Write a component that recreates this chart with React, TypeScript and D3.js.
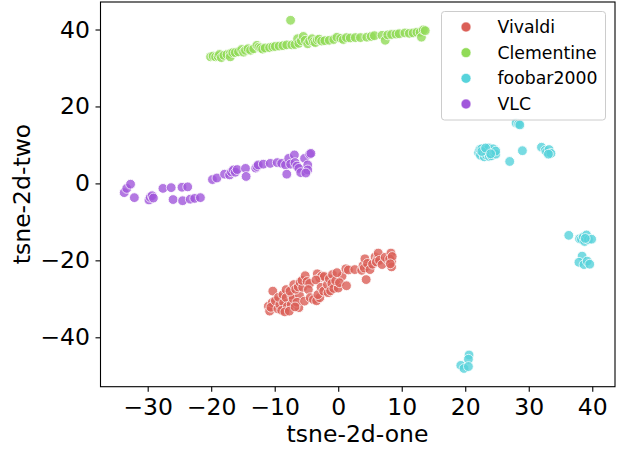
import { useRef, useEffect } from 'react';
import * as d3 from 'd3';

const xTicks = [-30, -20, -10, 0, 10, 20, 30, 40];
const yTicks = [-40, -20, 0, 20, 40];

const vivaldi = [
  [-11, -31.9], [-10.8, -33.2], [-10.4, -31], [-10.6, -32.2], [-9.5, -32.6], [-9.9, -30.5], [-10.3, -28], [-9.2, -31.5], [-9.4, -29.6], [-8.6, -31],
  [-8.9, -33], [-8.7, -28.9], [-8.2, -27.6], [-8.2, -29.7], [-8, -32], [-8.4, -33.4], [-7.3, -29.1], [-7.4, -31.5], [-7.7, -33.2], [-7.1, -30],
  [-7.6, -28], [-6.2, -32.3], [-6.1, -29.1], [-6.5, -30.9], [-6.8, -32.1], [-7, -26.3], [-6.7, -27.5], [-6.3, -26.9], [-6, -25.7], [-5.6, -27],
  [-5.7, -25.2], [-5.2, -24], [-4.9, -25.5], [-5.3, -30.6], [-4.5, -26], [-4.7, -27.6], [-4.4, -29.7], [-3.9, -30.2], [-3.4, -30.5], [-2.9, -29.7],
  [-3.2, -28.9], [-3.3, -23.5], [-2.9, -24.6], [-2.6, -24.1], [-2.2, -24.2], [-3.5, -25.1], [-2.7, -27], [-2.3, -28], [-1.6, -28.4], [-1.7, -26.3],
  [-1.2, -27.9], [-1.4, -24.8], [-0.9, -23.7], [-1, -26], [-0.7, -27.3], [0, -27.2], [-0.4, -25.3], [0.6, -24.1], [-0.2, -23.2], [0.2, -25.8],
  [1.3, -26.6], [1.2, -22.2], [1.6, -22.5], [2.6, -22.4], [3.7, -22.6], [3.9, -21.4], [4.2, -19.6], [4.4, -25], [4.5, -21.6], [4.1, -22],
  [4.6, -20.8], [5, -22.4], [5.4, -21], [5.8, -19.1], [6.2, -19.6], [6, -20.4], [6.3, -18.1], [6.5, -20], [6.9, -21.1], [7.7, -19.8],
  [7.4, -19.2], [8.3, -18.1], [8.4, -20.3], [8.1, -19.6], [8.4, -21.7], [8.5, -19], [8.2, -20.9],
];

const clementine = [
  [-20.1, 32.9], [-19.7, 33.1], [-19.3, 32.9], [-18.9, 33], [-18.7, 33.5], [-18.4, 32.7], [-18, 33.3], [-17.5, 33.5], [-17, 33.7], [-17, 32.9],
  [-16.6, 34], [-16.2, 34], [-15.7, 34.2], [-15.2, 34.8], [-14.9, 34.1], [-14.6, 34.6], [-14.2, 35], [-13.8, 34.6], [-13.3, 35], [-12.8, 35.9],
  [-12.5, 35.4], [-12.2, 35.2], [-11.9, 34.9], [-11.5, 35.2], [-10.8, 35.3], [-10.3, 35.5], [-9.9, 35.6], [-9.3, 35.7], [-8.7, 35.8], [-8.1, 36],
  [-7.5, 42.4], [-7.3, 36], [-6.8, 36.1], [-6.4, 37.6], [-6.2, 36.4], [-5.8, 37.1], [-5.5, 38.2], [-5.2, 37.2], [-4.8, 36.3], [-4.5, 37],
  [-4.1, 37.6], [-3.9, 36.8], [-3.6, 36.6], [-3.3, 37.3], [-3, 37.5], [-2.6, 37], [-2.1, 37.1], [-1.4, 37.2], [-0.7, 37.4], [-0.2, 38],
  [0.4, 37.7], [0.8, 37.4], [1.3, 37.9], [1.9, 37.8], [2.7, 37.9], [3.5, 37.9], [4.5, 38], [5.2, 38.2], [5.7, 38.4], [6.9, 38.5],
  [7.4, 37.2], [7.8, 38.6], [8.4, 38.7], [9.1, 38.8], [9.6, 38.9], [10.5, 39.1], [11.2, 39], [11.8, 39.1], [12.4, 39.3], [12.9, 39.3],
  [13.1, 38], [13.4, 39.9], [13.7, 39.7],
];

const foobar2000 = [
  [22.1, 8], [22.3, 8.8], [22.4, 7.3], [22.6, 9], [22.8, 7.9], [23, 6.9], [23.1, 8.6], [23.3, 7.4], [23.5, 8], [23.7, 9.2],
  [23.8, 7], [24.1, 7.2], [24.2, 8.4], [24.4, 9], [24.6, 7.9], [24.8, 7.6], [24.8, 8.4], [22.6, 8.3], [23.2, 9.2], [24, 7.7],
  [28, 15.7], [28.4, 15.4], [28.6, 15.2], [29, 8.5], [27, 5.7], [32, 9.4], [32.6, 8.6], [32.8, 8.2], [33.2, 8.8], [33.5, 7.8],
  [33.1, 7.6], [36.3, -13.5], [38, -14.4], [38.3, -14.5], [38.6, -13.9], [38.8, -15.1], [39.1, -13.4], [39.4, -14.6], [39.9, -14.5], [38.9, -14.3],
  [38.4, -18.9], [37.9, -20.5], [38.7, -21.1], [39.2, -20.2], [39.6, -21], [20.6, -44.6], [20.5, -45.7], [19.3, -47.3], [19.8, -48.1], [20.5, -47.6],
];

const vlc = [
  [-33.7, -2.4], [-33.3, -1.3], [-32.7, -0.2], [-32.1, -3.7], [-29.8, -4.3], [-29.6, -3.6], [-29.3, -3.2], [-29.1, -3.8], [-27.6, -1.3], [-26.3, -1.1],
  [-24.6, -1], [-23.7, -0.9], [-26, -4.2], [-24.5, -4.5], [-23.3, -4.1], [-22.6, -3.9], [-21.7, -3.7], [-19.8, 1], [-19.1, 1.4], [-17.9, 2.4],
  [-17.1, 2.2], [-16.8, 3], [-16.5, 3.5], [-16.2, 2.9], [-15.9, 3.6], [-14.6, 3.9], [-14.5, 1.8], [-13, 4], [-12.8, 4.4], [-12.6, 4.8],
  [-11.8, 5], [-10.7, 5.2], [-9.6, 5.4], [-8.9, 5.2], [-8.3, 4.8], [-8.1, 2.4], [-7.8, 6.5], [-7.5, 5], [-6.9, 7.4], [-6.8, 5.4],
  [-6.5, 4.5], [-6.2, 3.9], [-5.9, 2.8], [-5.3, 6.5], [-4.8, 4.8], [-4.8, 3.5], [-5.1, 2.7], [-4.5, 7.6], [-4.3, 7.8],
];

const seriesNames = ['Vivaldi', 'Clementine', 'foobar2000', 'VLC'];
const seriesValues = [vivaldi, clementine, foobar2000, vlc];
const colors = ['#db5f57', '#91db57', '#57d3db', '#a157db'];

export default function App() {
  const svgRef = useRef<SVGSVGElement>(null);

  useEffect(() => {
    const width = 618;
    const height = 450;
    const margin = { top: 2, right: 3, bottom: 63.3, left: 100.5 };
    const fontFamily = '"DejaVu Sans", sans-serif';

    const xScale = d3.scaleLinear().domain([-37.43, 43.58]).range([margin.left, width - margin.right]);
    const yScale = d3.scaleLinear().domain([-52.84, 47.15]).range([height - margin.bottom, margin.top]);

    const svg = d3.select(svgRef.current).attr('width', width).attr('height', height);
    svg.selectAll('*').remove();

    // points
    seriesValues.forEach((values, i) => {
      svg.append('g')
        .selectAll('circle')
        .data(values)
        .enter()
        .append('circle')
        .attr('cx', d => xScale(d[0]))
        .attr('cy', d => yScale(d[1]))
        .attr('r', 4.9)
        .attr('fill', colors[i])
        .attr('stroke', '#fff')
        .attr('stroke-width', 0.9)
        .attr('opacity', 0.8);
    });

    // axes
    const xAxis = svg.append('g')
      .attr('transform', `translate(0, ${height - margin.bottom})`)
      .call(d3.axisBottom(xScale).tickValues(xTicks).tickSize(5).tickPadding(6.5).tickFormat(d3.format('d') as any));
    const yAxis = svg.append('g')
      .attr('transform', `translate(${margin.left}, 0)`)
      .call(d3.axisLeft(yScale).tickValues(yTicks).tickSize(5).tickPadding(5.5).tickFormat(d3.format('d') as any));

    [xAxis, yAxis].forEach(a => {
      a.selectAll('text').attr('font-size', 23.5).attr('font-family', fontFamily).attr('fill', '#000');
      a.selectAll('line').attr('stroke', '#000').attr('stroke-width', 1.1);
      a.select('.domain').remove();
    });

    // frame
    svg.append('rect')
      .attr('x', margin.left)
      .attr('y', margin.top)
      .attr('width', width - margin.left - margin.right)
      .attr('height', height - margin.top - margin.bottom)
      .attr('fill', 'none')
      .attr('stroke', '#000')
      .attr('stroke-width', 1.1);

    svg.append('text')
      .attr('x', 357.5)
      .attr('y', 442)
      .attr('text-anchor', 'middle')
      .attr('font-size', 23.5)
      .attr('font-family', fontFamily)
      .text('tsne-2d-one');

    svg.append('text')
      .attr('transform', 'translate(30, 194) rotate(-90)')
      .attr('text-anchor', 'middle')
      .attr('font-size', 23.5)
      .attr('font-family', fontFamily)
      .text('tsne-2d-two');

    // legend
    const legend = svg.append('g');
    legend.append('rect')
      .attr('x', 441.5)
      .attr('y', 11.5)
      .attr('width', 164)
      .attr('height', 108.5)
      .attr('rx', 3)
      .attr('fill', '#fff')
      .attr('fill-opacity', 0.8)
      .attr('stroke', '#ccc');

    const legendY = d3.scalePoint<string>().domain(seriesNames).range([27, 104]);
    seriesNames.forEach((name, i) => {
      legend.append('circle')
        .attr('cx', 466)
        .attr('cy', legendY(name)!)
        .attr('r', 4.9)
        .attr('fill', colors[i])
        .attr('stroke', '#fff')
        .attr('stroke-width', 0.5);
      legend.append('text')
        .attr('x', 497.5)
        .attr('y', legendY(name)! + 6)
        .attr('font-size', 17.3)
        .attr('font-family', fontFamily)
        .text(name);
    });
  }, []);

  return <svg ref={svgRef} style={{ position: 'absolute', left: 0, top: 0 }} />;
}
